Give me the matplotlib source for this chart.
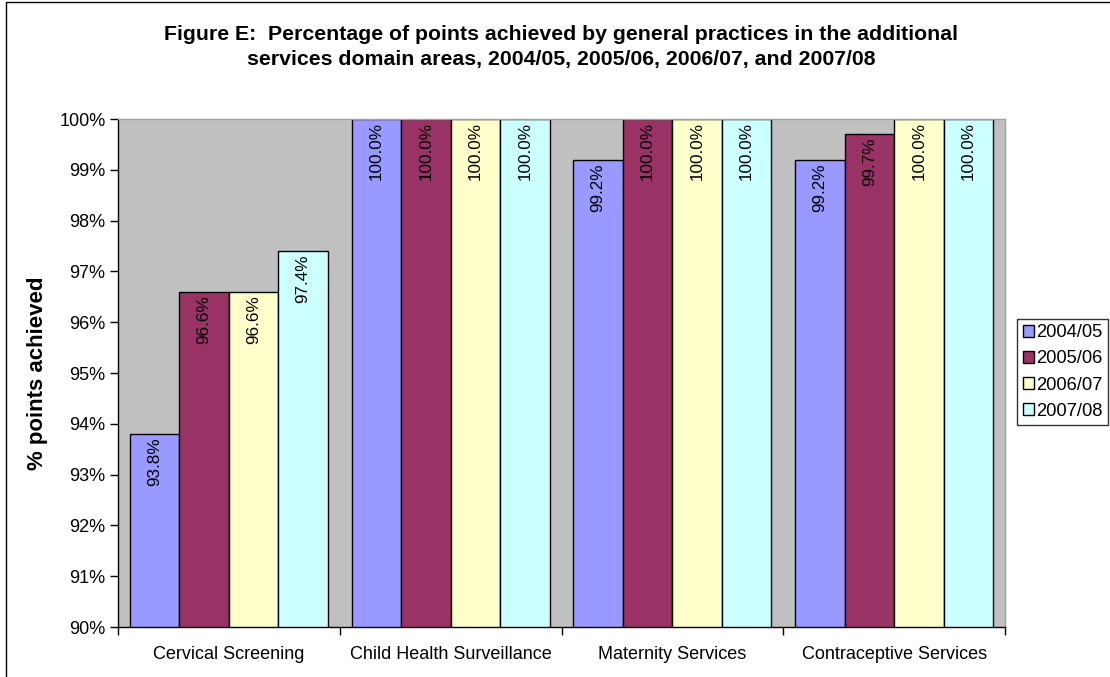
import matplotlib
matplotlib.use("Agg")
import matplotlib.pyplot as plt
import numpy as np
from matplotlib.patches import Rectangle

plt.rcParams['font.family'] = ['Liberation Sans', 'DejaVu Sans']

categories = ["Cervical Screening", "Child Health Surveillance", "Maternity Services", "Contraceptive Services"]
series_names = ["2004/05", "2005/06", "2006/07", "2007/08"]
values_2004 = [93.8, 100.0, 99.2, 99.2]
values_2005 = [96.6, 100.0, 100.0, 99.7]
values_2006 = [96.6, 100.0, 100.0, 100.0]
values_2007 = [97.4, 100.0, 100.0, 100.0]
series_values = [values_2004, values_2005, values_2006, values_2007]
colors = ["#9999FF", "#993366", "#FFFFCC", "#CCFFFF"]
yticks = [90, 91, 92, 93, 94, 95, 96, 97, 98, 99, 100]

fig = plt.figure(figsize=(11.1, 6.77), dpi=100)
ax = fig.add_axes([118/1110, 1-627/677, (1005-118)/1110, (627-119)/677])
ax.set_facecolor("#C0C0C0")

x = np.arange(len(categories))
bw = 0.223
for i, (name, vals, c) in enumerate(zip(series_names, series_values, colors)):
    pos = x + (i - 1.5) * bw
    ax.bar(pos, vals, width=bw, bottom=0, color=c, edgecolor="black", linewidth=1.0, label=name, zorder=2)
    for xp, v in zip(pos, vals):
        ax.annotate(f"{v:.1f}%", xy=(xp, v), xytext=(0, -2.5), textcoords="offset points",
                    ha="center", va="top", rotation=90, fontsize=12.3, color="black", zorder=3)

ax.set_ylim(90, 100)
ax.set_xlim(-0.5, len(categories) - 0.5)
ax.set_yticks(yticks)
ax.set_yticklabels([f"{t}%" for t in yticks], fontsize=13)
ax.tick_params(axis="y", direction="out", length=6, width=1, pad=3)

ax.set_xticks(np.arange(-0.5, len(categories), 1.0))
ax.set_xticklabels([])
ax.tick_params(axis="x", which="major", direction="out", length=6, width=1)
ax.set_xticks(x, minor=True)
ax.set_xticklabels(categories, minor=True, fontsize=13)
ax.tick_params(axis="x", which="minor", length=0, pad=14)

for s in ["left", "bottom"]:
    ax.spines[s].set_color("black")
    ax.spines[s].set_linewidth(1.0)
for s in ["top", "right"]:
    ax.spines[s].set_color("#A0A0A0")
    ax.spines[s].set_linewidth(1.0)

fig.text(38/1110, 1-373/677, "% points achieved", rotation=90, ha="center", va="center",
         fontsize=16, fontweight="bold")
fig.text(561/1110, 1-47/677,
         "Figure E:  Percentage of points achieved by general practices in the additional\nservices domain areas, 2004/05, 2005/06, 2006/07, and 2007/08",
         ha="center", va="center", fontsize=15.3, fontweight="bold", linespacing=1.4)

leg = fig.legend(loc="center left", bbox_to_anchor=(1017/1110, 1-372/677), fontsize=13.2,
                 frameon=True, fancybox=False, edgecolor="black", handlelength=0.65, handleheight=0.65,
                 handletextpad=0.1, borderpad=0.3, borderaxespad=0, labelspacing=0.5)
leg.get_frame().set_linewidth(1.0)

fig.patches.append(Rectangle((6/1110, -0.1), 1.2, 1 - 2/677 + 0.1, transform=fig.transFigure,
                             fill=False, edgecolor="black", linewidth=1.0))

fig.savefig("out.png", dpi=100)
